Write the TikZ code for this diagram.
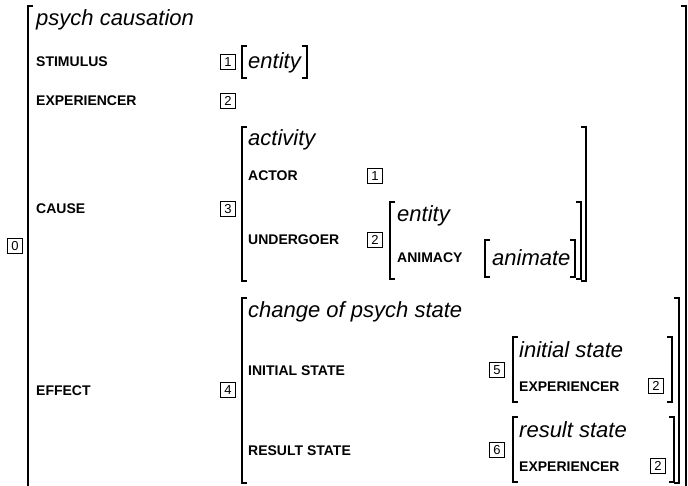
\documentclass[tikz,border=0pt]{standalone}
\usepackage{fontspec}
\setmainfont{Liberation Sans}
\usepackage{tikz}

% square brackets of one matrix: left x, top y, right x, bottom y
\newcommand{\avmbrackets}[4]{%
  \draw[brk] (#1+5,#2) -- (#1,#2) -- (#1,#4) -- (#1+5,#4);
  \draw[brk] (#3-5,#2) -- (#3,#2) -- (#3,#4) -- (#3-5,#4);}

\tikzset{
  avmtype/.style={anchor=base west,inner sep=0pt,font=\fontsize{22}{24}\selectfont\itshape},
  avmfeat/.style={anchor=base west,inner sep=0pt,font=\fontsize{14}{16}\selectfont\bfseries},
  avmtag/.style={draw,line width=0.6pt,minimum size=14.5pt,inner sep=0pt,font=\fontsize{13}{13}\selectfont},
  brk/.style={line width=1.3pt,line cap=butt,line join=miter}
}

\begin{document}
\begin{tikzpicture}[x=1pt,y=-1pt]
    \useasboundingbox (0,0) rectangle (688,486);

    % outer matrix
        \node[avmtag] (t0) at (15,246) {0};
        \avmbrackets{28}{6}{686}{490}
        \node[avmtype] (psych) at (36,26) {psych causation};

        \node[avmfeat] (stim) at (36,67) {STIMULUS};
        \node[avmtag] (t1a) at (228,62) {1};
        \avmbrackets{242}{46}{307}{78}
        \node[avmtype] (ent1) at (248,69) {entity};

        \node[avmfeat] (exp) at (36,106) {EXPERIENCER};
        \node[avmtag] (t2a) at (228,101) {2};

    % cause
        \node[avmfeat] (cause) at (36,214) {CAUSE};
        \node[avmtag] (t3) at (228,209) {3};
        \avmbrackets{242}{127}{586}{281}
        \node[avmtype] (act) at (248,146) {activity};
        \node[avmfeat] (actor) at (248,181) {ACTOR};
        \node[avmtag] (t1b) at (375,176) {1};
        \node[avmfeat] (under) at (248,245) {UNDERGOER};
        \node[avmtag] (t2b) at (375,240) {2};
        \avmbrackets{390}{202}{581}{279}
        \node[avmtype] (ent2) at (397,222) {entity};
        \node[avmfeat] (anim) at (397,263) {ANIMACY};
        \avmbrackets{485}{240}{575}{277}
        \node[avmtype] (animate) at (492,266) {animate};

    % effect
        \node[avmfeat] (effect) at (36,395) {EFFECT};
        \node[avmtag] (t4) at (228,390) {4};
        \avmbrackets{242}{298}{679}{483}
        \node[avmtype] (change) at (248,318) {change of psych state};

        \node[avmfeat] (init) at (248,375) {INITIAL STATE};
        \node[avmtag] (t5) at (497,370) {5};
        \avmbrackets{513}{337}{672}{402}
        \node[avmtype] (inits) at (519,357) {initial state};
        \node[avmfeat] (exp5) at (519,391) {EXPERIENCER};
        \node[avmtag] (t2c) at (656,386) {2};

        \node[avmfeat] (res) at (248,455) {RESULT STATE};
        \node[avmtag] (t6) at (497,450) {6};
        \avmbrackets{513}{417}{674}{482}
        \node[avmtype] (ress) at (519,437) {result state};
        \node[avmfeat] (exp6) at (519,471) {EXPERIENCER};
        \node[avmtag] (t2d) at (658,466) {2};
\end{tikzpicture}
\end{document}
